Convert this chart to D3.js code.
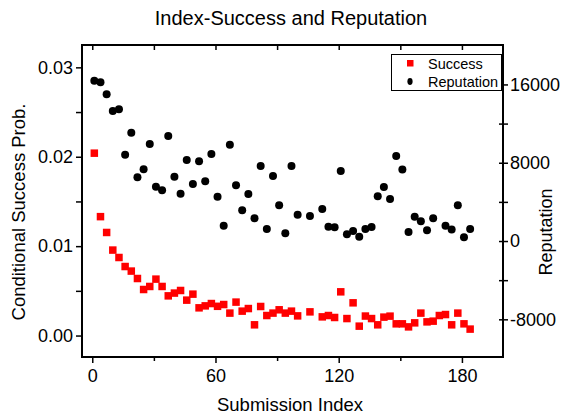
<!DOCTYPE html>
<html>
<head>
<meta charset="utf-8">
<script src="https://cdn.jsdelivr.net/npm/d3@7"></script>
<style>
html,body{margin:0;padding:0;background:#fff;}
svg{display:block;font-family:"Liberation Sans",Arial,sans-serif;}
</style>
</head>
<body>
<svg id="chart" width="563" height="414"></svg>
<script>
const submissionIndex = [1,4,7,10,13,16,19,22,25,28,31,34,37,40,43,46,49,52,55,58,61,64,67,70,73,76,79,82,85,88,91,94,97,100,106,112,115,118,121,124,127,130,133,136,139,142,145,148,151,154,157,160,163,166,169,172,175,178,181,184];
const successProb = [0.0204,0.0133,0.01153,0.00956,0.00873,0.00772,0.00721,0.00638,0.00515,0.00549,0.00631,0.00549,0.00444,0.00475,0.00504,0.00396,0.00463,0.0031,0.00332,0.00358,0.00327,0.00347,0.00251,0.00374,0.00273,0.00302,0.0012,0.00325,0.00224,0.00251,0.00288,0.00251,0.00273,0.0022,0.00265,0.00209,0.00224,0.00202,0.00489,0.0019,0.00366,0.00105,0.00218,0.0019,0.0012,0.00206,0.00217,0.00131,0.00131,0.00097,0.00142,0.00251,0.00153,0.00161,0.00224,0.00235,0.0012,0.00251,0.00131,0.00072];
const reputation = [16380,16220,14990,13290,13460,8820,11070,6510,7330,9910,5550,5180,10730,6570,4830,8280,5830,8150,6100,8890,4530,1560,9840,5690,3140,4800,2320,7670,1230,6640,3650,790,7670,2690,2560,3270,1460,1400,7150,680,1020,440,1230,1430,4580,5520,4290,8690,7310,920,2480,2020,1100,2330,null,1550,1180,3650,380,1230];
const xTicks = [0,30,60,90,120,150,180];
const xTickLabels = [0,60,120,180];
const yLeftTicks = [0,0.005,0.01,0.015,0.02,0.025,0.03];
const yLeftLabels = [0,0.01,0.02,0.03];
const yRightTicks = [-8000,-4000,0,4000,8000,12000,16000];
const yRightLabels = [-8000,0,8000,16000];
const seriesNames = ["Success","Reputation"];

const svg = d3.select("#chart");
const L=82, R=503, T=45, B=357;
const x = d3.scaleLinear().domain([-5,200]).range([L,R]);
const yL = d3.scaleLinear().domain([-0.0024,0.0325]).range([B,T]);
const yR = d3.scaleLinear().domain([-11850,20030]).range([B,T]);

const fs = 18;

// bottom axis
const gB = svg.append("g").attr("transform",`translate(0,${B})`);
gB.call(d3.axisBottom(x).tickValues(xTicks).tickSize(6).tickFormat(d=>xTickLabels.includes(d)?d:""));
gB.selectAll(".tick line").attr("y2",d=>xTickLabels.includes(d)?6:4);
// top axis (inward ticks)
const gT = svg.append("g").attr("transform",`translate(0,${T})`);
gT.call(d3.axisTop(x).tickValues(xTicks).tickSize(-5).tickFormat(""));
// left axis
const gL = svg.append("g").attr("transform",`translate(${L},0)`);
gL.call(d3.axisLeft(yL).tickValues(yLeftTicks).tickSize(6).tickFormat(d=>yLeftLabels.some(v=>Math.abs(v-d)<1e-9)?d3.format(".2f")(d):""));
// right axis (in & out ticks)
const gR = svg.append("g").attr("transform",`translate(${R},0)`);
gR.call(d3.axisRight(yR).tickValues(yRightTicks).tickSize(5).tickFormat(d=>yRightLabels.includes(d)?d:""));
gR.selectAll(".tick line").attr("x1",-4).attr("x2",5);

[gB,gT,gL,gR].forEach(g=>{
  g.select(".domain").remove();
  g.selectAll(".tick line").attr("stroke","#000").attr("stroke-width",1.5);
  g.selectAll(".tick text").attr("font-size",fs).attr("font-family","Liberation Sans, Arial, sans-serif").attr("fill","#000");
});
gB.selectAll(".tick text").attr("y",12);
gL.selectAll(".tick text").attr("x",-9);
gR.selectAll(".tick text").attr("x",7);

// frame
svg.append("rect").attr("x",L).attr("y",T).attr("width",R-L).attr("height",B-T)
  .attr("fill","none").attr("stroke","#000").attr("stroke-width",2);

const data = submissionIndex.map((d,i)=>({i:d,s:successProb[i],r:reputation[i]}));

// reputation points
svg.append("g").selectAll("circle").data(data.filter(d=>d.r!==null)).join("circle")
  .attr("cx",d=>x(d.i)).attr("cy",d=>yR(d.r)).attr("r",4).attr("fill","#000");
// success points
const sq = 7.5;
svg.append("g").selectAll("rect").data(data).join("rect")
  .attr("x",d=>x(d.i)-sq/2).attr("y",d=>yL(d.s)-sq/2).attr("width",sq).attr("height",sq).attr("fill","#ff0000");

// legend
const lg = svg.append("g");
lg.append("rect").attr("x",391.5).attr("y",54.5).attr("width",110).attr("height",36)
  .attr("fill","#fff").attr("stroke","#000").attr("stroke-width",1);
lg.append("rect").attr("x",407).attr("y",60).attr("width",6.5).attr("height",6.5).attr("fill","#ff0000");
lg.append("ellipse").attr("cx",410).attr("cy",81.5).attr("rx",2.6).attr("ry",3.4).attr("fill","#000");
lg.append("text").attr("x",428).attr("y",68.5).attr("font-size",14.5).text(seriesNames[0]);
lg.append("text").attr("x",428).attr("y",87).attr("font-size",14.5).text(seriesNames[1]);

// titles
svg.append("text").attr("x",291).attr("y",25).attr("text-anchor","middle").attr("font-size",20).text("Index-Success and Reputation");
svg.append("text").attr("x",290).attr("y",411).attr("text-anchor","middle").attr("font-size",18.5).text("Submission Index");
svg.append("text").attr("transform","translate(25,212) rotate(-90)").attr("text-anchor","middle").attr("font-size",18.5).text("Conditional Success Prob.");
svg.append("text").attr("transform","translate(552,232) rotate(-90)").attr("text-anchor","middle").attr("font-size",18).text("Reputation");
</script>
</body>
</html>
